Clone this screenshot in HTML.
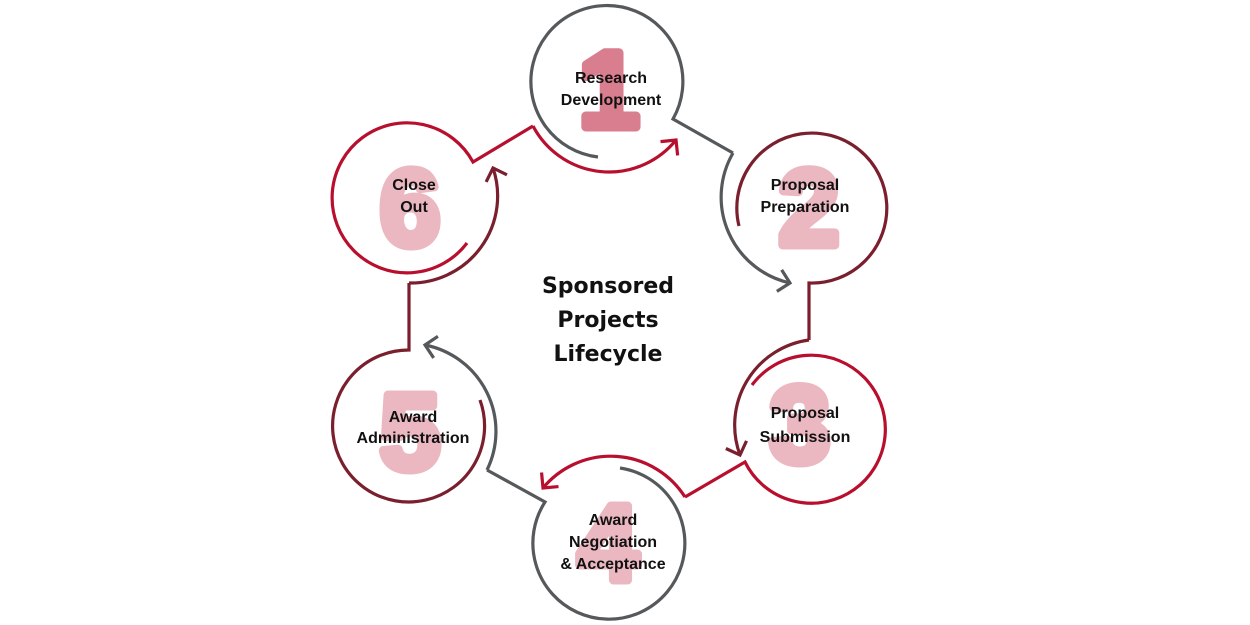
<!DOCTYPE html>
<html><head><meta charset="utf-8"><style>
html,body{margin:0;padding:0;background:#fff;width:1250px;height:625px;overflow:hidden}
svg{display:block}
.n{font-family:"Liberation Sans",sans-serif;font-weight:900;font-size:108px;text-anchor:middle;stroke-width:9;stroke-linejoin:round}
.l{font-family:"Liberation Sans",sans-serif;font-weight:bold;font-size:16px;text-anchor:middle;fill:#111}
.t{font-family:"DejaVu Sans","Liberation Sans",sans-serif;font-weight:bold;font-size:22px;text-anchor:middle;fill:#111}
path{fill:none;stroke-width:3.2;stroke-linejoin:miter}
</style></head><body>
<svg width="1250" height="625" viewBox="0 0 1250 625">
<defs>
<marker id="ag" markerUnits="userSpaceOnUse" markerWidth="40" markerHeight="40" refX="20" refY="20" orient="auto"><path d="M9,9 L20,20 L9,31" stroke="#55595c" stroke-width="3.6"/></marker>
<marker id="ar" markerUnits="userSpaceOnUse" markerWidth="40" markerHeight="40" refX="20" refY="20" orient="auto"><path d="M9,9 L20,20 L9,31" stroke="#b80f2e" stroke-width="3.6"/></marker>
<marker id="ad" markerUnits="userSpaceOnUse" markerWidth="40" markerHeight="40" refX="20" refY="20" orient="auto"><path d="M9,9 L20,20 L9,31" stroke="#7a1f2d" stroke-width="3.6"/></marker>
</defs>
<!-- numbers -->
<text class="n" x="609" y="127" fill="#d97e8f" stroke="#d97e8f">1</text>
<text class="n" x="809" y="245" fill="#ebb8c1" stroke="#ebb8c1">2</text>
<text class="n" x="800" y="462" fill="#ebb8c1" stroke="#ebb8c1">3</text>
<text class="n" x="608" y="580" fill="#ebb8c1" stroke="#ebb8c1">4</text>
<text class="n" x="410" y="469" fill="#ebb8c1" stroke="#ebb8c1">5</text>
<text class="n" x="410" y="245" fill="#ebb8c1" stroke="#ebb8c1">6</text>

<!-- node 1 gray -->
<path stroke="#55595c" d="M598,157 A76,76 0 1 1 673,119 L733,153" />
<path stroke="#55595c" marker-end="url(#ag)" d="M733,153 A88,88 0 0 0 790,283" />
<!-- node 2 dark red -->
<path stroke="#7a1f2d" d="M739,226 A75,75 0 1 1 809,283 L809,340" />
<path stroke="#7a1f2d" marker-end="url(#ad)" d="M809,340 A86,86 0 0 0 740,455" />
<!-- node 3 red -->
<path stroke="#b80f2e" d="M752,385 A74,74 0 1 1 745,462 L685,497" />
<path stroke="#b80f2e" marker-end="url(#ar)" d="M685,497 A88,88 0 0 0 543,488" />
<!-- node 4 gray -->
<path stroke="#55595c" d="M620,468 A76,76 0 1 1 545,502 L487,470" />
<path stroke="#55595c" marker-end="url(#ag)" d="M487,470 A88,88 0 0 0 425,345" />
<!-- node 5 dark red -->
<path stroke="#7a1f2d" d="M480,400 A76,76 0 1 1 409,350 L409,283" />
<path stroke="#7a1f2d" marker-end="url(#ad)" d="M409,283 A87,87 0 0 0 493,168" />
<!-- node 6 red -->
<path stroke="#b80f2e" d="M467,243 A75,75 0 1 1 473,162 L533,126" />
<path stroke="#b80f2e" marker-end="url(#ar)" d="M533,126 A86,86 0 0 0 676,140" />

<!-- labels -->
<text class="l" x="611" y="83">Research</text>
<text class="l" x="611" y="105">Development</text>
<text class="l" x="805" y="190">Proposal</text>
<text class="l" x="805" y="212">Preparation</text>
<text class="l" x="805" y="418">Proposal</text>
<text class="l" x="805" y="442">Submission</text>
<text class="l" x="613" y="525">Award</text>
<text class="l" x="613" y="547">Negotiation</text>
<text class="l" x="613" y="569">&amp; Acceptance</text>
<text class="l" x="413" y="422">Award</text>
<text class="l" x="413" y="443">Administration</text>
<text class="l" x="414" y="190">Close</text>
<text class="l" x="414" y="212">Out</text>

<text class="t" x="608" y="293">Sponsored</text>
<text class="t" x="608" y="327">Projects</text>
<text class="t" x="608" y="361">Lifecycle</text>
</svg>
</body></html>
